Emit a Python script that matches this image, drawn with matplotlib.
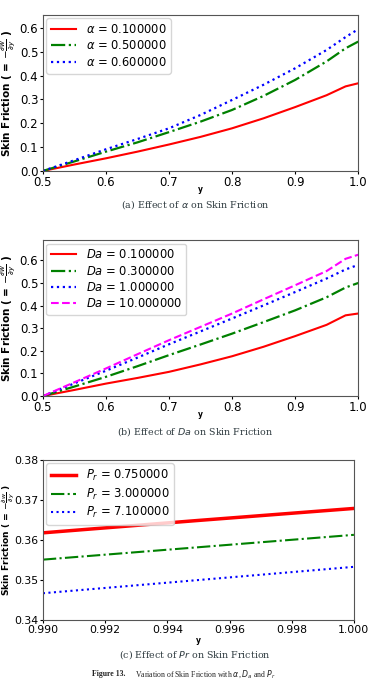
import matplotlib
matplotlib.use('Agg')
import matplotlib.pyplot as plt
import numpy as np

plt.rcParams['mathtext.fontset'] = 'dejavusans'

# panel (a): effect of alpha
y_a = [0.5, 0.55, 0.6, 0.65, 0.7, 0.75, 0.8, 0.85, 0.9, 0.95, 0.98, 1.0]
sf_alpha_01 = [0, 0.027, 0.053, 0.081, 0.111, 0.143, 0.179, 0.221, 0.268, 0.318, 0.355, 0.368]
sf_alpha_05 = [0, 0.040, 0.081, 0.120, 0.163, 0.207, 0.256, 0.315, 0.382, 0.460, 0.515, 0.543]
sf_alpha_06 = [0, 0.045, 0.091, 0.134, 0.179, 0.235, 0.298, 0.362, 0.431, 0.508, 0.562, 0.595]
alpha_vals = [0.1, 0.5, 0.6]

# panel (b): effect of Da
y_b = y_a
sf_da_01 = [0, 0.027, 0.055, 0.080, 0.107, 0.140, 0.176, 0.218, 0.265, 0.315, 0.357, 0.365]
sf_da_03 = [0, 0.042, 0.085, 0.132, 0.181, 0.228, 0.276, 0.327, 0.379, 0.437, 0.480, 0.500]
sf_da_1 = [0, 0.056, 0.112, 0.170, 0.229, 0.286, 0.343, 0.401, 0.460, 0.520, 0.560, 0.580]
sf_da_10 = [0, 0.061, 0.122, 0.185, 0.247, 0.306, 0.365, 0.428, 0.490, 0.553, 0.607, 0.625]
da_vals = [0.1, 0.3, 1.0, 10.0]

# panel (c): effect of Pr
y_c = [0.990, 0.995, 1.000]
sf_pr_075 = [0.3618, 0.3649, 0.3679]
sf_pr_3 = [0.3551, 0.3582, 0.3613]
sf_pr_71 = [0.3467, 0.3500, 0.3533]
pr_vals = [0.75, 3.0, 7.1]

fig = plt.figure(figsize=(3.7, 6.92), dpi=100)
ax1 = fig.add_axes([0.116, 0.753, 0.852, 0.2254])
ax2 = fig.add_axes([0.116, 0.4277, 0.852, 0.2254])
ax3 = fig.add_axes([0.116, 0.104, 0.8405, 0.2312])

ylab = r'Skin Friction ( = $-\frac{\partial w}{\partial y}$ )'

ax1.plot(y_a, sf_alpha_01, color='red', lw=1.5, label=r'$\alpha$ = %f' % alpha_vals[0])
ax1.plot(y_a, sf_alpha_05, color='green', lw=1.6, ls='-.', label=r'$\alpha$ = %f' % alpha_vals[1])
ax1.plot(y_a, sf_alpha_06, color='blue', lw=1.6, ls=':', label=r'$\alpha$ = %f' % alpha_vals[2])
ax1.set_xlim(0.5, 1.0)
ax1.set_ylim(0, 0.655)
ax1.set_xticks(np.arange(0.5, 1.01, 0.1))
ax1.set_yticks(np.arange(0, 0.61, 0.1))

ax2.plot(y_b, sf_da_01, color='red', lw=1.5, label=r'$Da$ = %f' % da_vals[0])
ax2.plot(y_b, sf_da_03, color='green', lw=1.6, ls='-.', label=r'$Da$ = %f' % da_vals[1])
ax2.plot(y_b, sf_da_1, color='blue', lw=1.6, ls=':', label=r'$Da$ = %f' % da_vals[2])
ax2.plot(y_b, sf_da_10, color='magenta', lw=1.5, ls='--', label=r'$Da$ = %f' % da_vals[3])
ax2.set_xlim(0.5, 1.0)
ax2.set_ylim(0, 0.69)
ax2.set_xticks(np.arange(0.5, 1.01, 0.1))
ax2.set_yticks(np.arange(0, 0.61, 0.1))

ax3.plot(y_c, sf_pr_075, color='red', lw=2.5, label=r'$P_r$ = %f' % pr_vals[0])
ax3.plot(y_c, sf_pr_3, color='green', lw=1.5, ls='-.', label=r'$P_r$ = %f' % pr_vals[1])
ax3.plot(y_c, sf_pr_71, color='blue', lw=1.5, ls=':', label=r'$P_r$ = %f' % pr_vals[2])
ax3.set_xlim(0.990, 1.000)
ax3.set_ylim(0.34, 0.38)
ax3.set_xticks(np.arange(0.990, 1.0001, 0.002))
ax3.set_yticks(np.arange(0.34, 0.3801, 0.01))
ax3.xaxis.set_major_formatter(matplotlib.ticker.FormatStrFormatter('%.3f'))
ax3.yaxis.set_major_formatter(matplotlib.ticker.FormatStrFormatter('%.2f'))

for ax, lx, ly, fs, lfs in ((ax1, -0.083, -0.09, 8.5, 7.5), (ax2, -0.083, -0.09, 8.5, 7.5),
                            (ax3, -0.086, -0.10, 7.8, 6.6)):
    ax.tick_params(labelsize=fs, length=2.5, pad=0.8)
    ax.set_ylabel(ylab, fontsize=lfs, fontweight='bold')
    ax.yaxis.set_label_coords(lx, 0.5)
    ax.set_xlabel('y', fontsize=5.5, fontweight='bold')
    ax.xaxis.set_label_coords(0.5, ly)
    ax.legend(loc='upper left', fontsize=8.3, handlelength=2.2, borderpad=0.4,
              labelspacing=0.3, borderaxespad=0.3)
    for s in ax.spines.values():
        s.set_color('#555555')

cap = dict(ha='center', va='center', fontsize=6.8, family='DejaVu Serif', color='#2f3b40')
fig.text(0.527, 1 - 205 / 692, r'(a) Effect of $\alpha$ on Skin Friction', **cap)
fig.text(0.527, 1 - 432 / 692, r'(b) Effect of $Da$ on Skin Friction', **cap)
fig.text(0.527, 1 - 655 / 692, r'(c) Effect of $Pr$ on Skin Friction', **cap)

fig.text(0.249, 1 - 674 / 692, 'Figure 13.', fontsize=5.6, family='Liberation Serif',
         fontweight='bold', color='#222222', va='center')
fig.text(0.365, 1 - 674 / 692, r'Variation of Skin Friction with $\alpha$, $D_a$ and $P_r$',
         fontsize=5.6, family='Liberation Serif', color='#222222', va='center')

fig.savefig('out.png', dpi=100)
